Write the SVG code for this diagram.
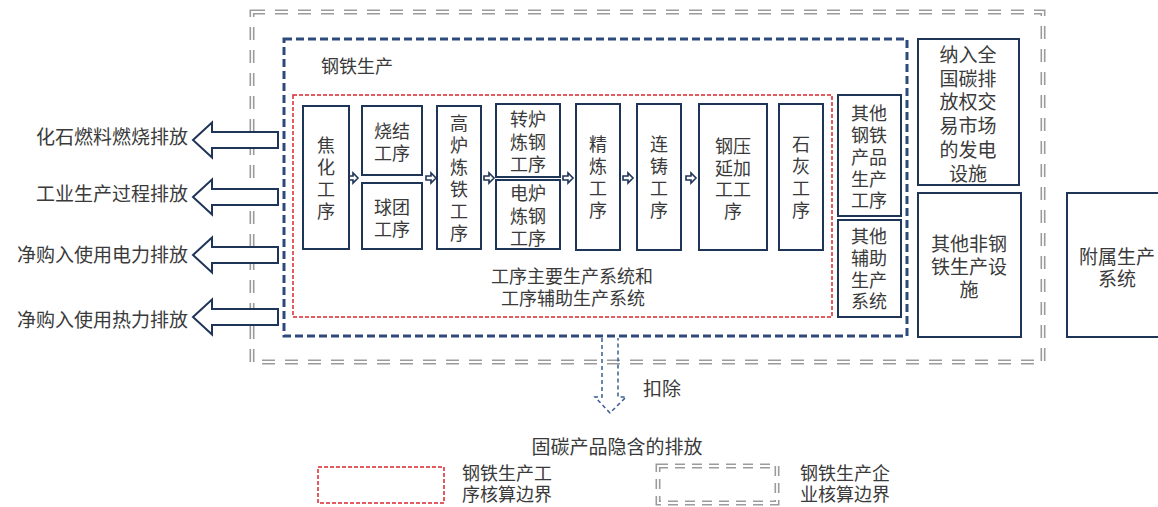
<svg xmlns="http://www.w3.org/2000/svg" width="1158" height="507" viewBox="0 0 1158 507">
<style>
text{font-family:"Noto Sans CJK SC","Liberation Sans",sans-serif;fill:#3a3a3a;dominant-baseline:central;text-anchor:middle}
.t18{font-size:18px}
.t19{font-size:19px}
.v{writing-mode:vertical-rl;letter-spacing:3.7px}
.box{fill:#fff;stroke:#1f3558;stroke-width:2}
.big{fill:#fff;stroke:#1f3558;stroke-width:2;stroke-linejoin:miter}
.sm{fill:#fff;stroke:#1f3558;stroke-width:1.6}
.gOut{fill:none;stroke:#9b9b9b;stroke-width:5;stroke-dasharray:13 10}
.gIn{fill:none;stroke:#fff;stroke-width:1.8;stroke-dasharray:13 10}
.blue{fill:none;stroke:#2e4a7d;stroke-width:3;stroke-dasharray:8 4}
.red{fill:none;stroke:#d9262c;stroke-width:1.5;stroke-dasharray:4 2}
</style>
<defs>
<path id="sa" d="M0,-2 H5 V-5 L10,0 L5,5 V2 H0 Z"/>
<path id="la" d="M0,0 L19,-17.5 V-8 H85 V8 H19 V17.5 Z"/>
</defs>
<rect width="1158" height="507" fill="#fff"/>

<g id="boundaries">
<rect class="gOut" x="252" y="12" width="791" height="350"/>
<rect class="gIn" x="252" y="12" width="791" height="350"/>
<rect class="blue" x="284" y="39" width="623" height="297"/>
<rect class="red" x="293" y="95" width="539" height="222"/>
</g>
<text class="t18" x="357" y="65">钢铁生产</text>

<g id="connectors">
<use href="#sa" class="sm" x="348" y="178"/>
<use href="#sa" class="sm" x="426" y="178"/>
<use href="#sa" class="sm" x="484" y="178"/>
<use href="#sa" class="sm" x="563" y="178"/>
<use href="#sa" class="sm" x="623" y="178"/>
<use href="#sa" class="sm" x="686" y="178"/>
<use href="#la" class="big" x="193" y="140"/>
<use href="#la" class="big" x="193" y="197"/>
<use href="#la" class="big" x="193" y="255"/>
<use href="#la" class="big" x="193" y="317"/>
<path d="M602,338 V397 H595 L610,413 L626,397 H618 V338" fill="none" stroke="#3d5d92" stroke-width="1.5" stroke-dasharray="4 3"/>
</g>

<g id="left-labels">
<text class="t19" x="188" y="135" style="text-anchor:end">化石燃料燃烧排放</text>
<text class="t19" x="188" y="192" style="text-anchor:end">工业生产过程排放</text>
<text class="t19" x="188" y="253" style="text-anchor:end">净购入使用电力排放</text>
<text class="t19" x="188" y="318" style="text-anchor:end">净购入使用热力排放</text>
</g>

<g id="n-jiaohua"><rect class="box" x="303" y="106" width="46" height="143"/>
<text class="t18 v" x="326" y="180">焦化工序</text></g>
<g id="n-shaojie"><rect class="box" x="362" y="106" width="60" height="69"/>
<text class="t18"><tspan x="392" y="130">烧结</tspan><tspan x="392" y="152">工序</tspan></text></g>
<g id="n-qiutuan"><rect class="box" x="362" y="183" width="60" height="66"/>
<text class="t18"><tspan x="392" y="206">球团</tspan><tspan x="392" y="228">工序</tspan></text></g>
<g id="n-gaolu"><rect class="box" x="437" y="106" width="44" height="143"/>
<text class="t18 v" x="459" y="180" style="letter-spacing:4px">高炉炼铁工序</text></g>
<g id="n-zhuanlu"><rect class="box" x="496" y="104" width="64" height="73"/>
<text class="t18"><tspan x="528" y="118">转炉</tspan><tspan x="528" y="141">炼钢</tspan><tspan x="528" y="163">工序</tspan></text></g>
<g id="n-dianlu"><rect class="box" x="496" y="180" width="64" height="69"/>
<text class="t18"><tspan x="528" y="192">电炉</tspan><tspan x="528" y="215">炼钢</tspan><tspan x="528" y="237">工序</tspan></text></g>
<g id="n-jinglian"><rect class="box" x="576" y="104" width="44" height="146"/>
<text class="t18 v" x="598" y="179">精炼工序</text></g>
<g id="n-lianzhu"><rect class="box" x="637" y="104" width="44" height="146"/>
<text class="t18 v" x="659" y="179">连铸工序</text></g>
<g id="n-yanya"><rect class="box" x="699" y="104" width="68" height="146"/>
<text class="t18"><tspan x="733" y="145">钢压</tspan><tspan x="733" y="167">延加</tspan><tspan x="733" y="188">工工</tspan><tspan x="733" y="210">序</tspan></text></g>
<g id="n-shihui"><rect class="box" x="779" y="104" width="44" height="146"/>
<text class="t18 v" x="801" y="179">石灰工序</text></g>
<g id="n-main-label">
<text class="t18"><tspan x="572" y="275">工序主要生产系统和</tspan><tspan x="573" y="297">工序辅助生产系统</tspan></text></g>
<g id="n-other-products"><rect class="box" x="838" y="95" width="63" height="121"/>
<text class="t18"><tspan x="869" y="112">其他</tspan><tspan x="869" y="134">钢铁</tspan><tspan x="869" y="156">产品</tspan><tspan x="869" y="178">生产</tspan><tspan x="869" y="199">工序</tspan></text></g>
<g id="n-other-aux"><rect class="box" x="838" y="220" width="63" height="97"/>
<text class="t18"><tspan x="869" y="235">其他</tspan><tspan x="869" y="257">辅助</tspan><tspan x="869" y="279">生产</tspan><tspan x="869" y="300">系统</tspan></text></g>
<g id="n-power"><rect class="box" x="918" y="39" width="101" height="146"/>
<text class="t19"><tspan x="968" y="53">纳入全</tspan><tspan x="968" y="77">国碳排</tspan><tspan x="968" y="100">放权交</tspan><tspan x="968" y="124">易市场</tspan><tspan x="968" y="148">的发电</tspan><tspan x="968" y="172">设施</tspan></text></g>
<g id="n-nonsteel"><rect class="box" x="918" y="193" width="103" height="144"/>
<text class="t19"><tspan x="969" y="242">其他非钢</tspan><tspan x="969" y="265">铁生产设</tspan><tspan x="969" y="288">施</tspan></text></g>
<g id="n-ancillary"><rect class="box" x="1067" y="193" width="110" height="144"/>
<text class="t19"><tspan x="1117" y="255">附属生产</tspan><tspan x="1117" y="277">系统</tspan></text></g>

<g id="bottom-labels">
<text class="t19" x="662" y="387">扣除</text>
<text class="t19" x="617" y="445">固碳产品隐含的排放</text>
</g>

<g id="legend">
<rect class="red" x="318" y="467" width="126" height="36"/>
<text class="t18" style="text-anchor:start"><tspan x="462" y="472">钢铁生产工</tspan><tspan x="462" y="493">序核算边界</tspan></text>
<rect class="gOut" x="658" y="466" width="119" height="37" style="stroke-dasharray:10 7"/>
<rect class="gIn" x="658" y="466" width="119" height="37" style="stroke-dasharray:10 7"/>
<text class="t18" style="text-anchor:start"><tspan x="800" y="472">钢铁生产企</tspan><tspan x="800" y="493">业核算边界</tspan></text>
</g>
</svg>
